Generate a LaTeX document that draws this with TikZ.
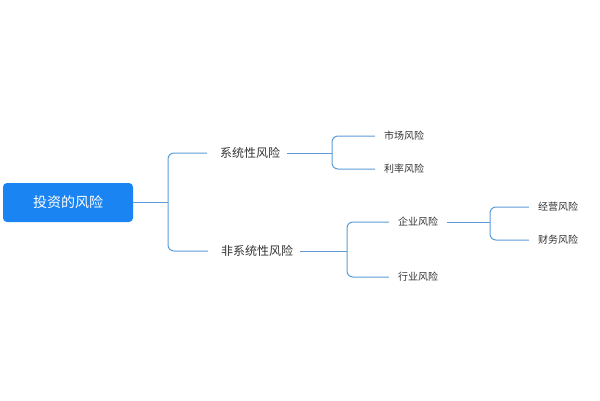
\documentclass[tikz,border=0pt]{standalone}
\usepackage{fontspec}
\setmainfont{Noto Sans CJK SC}
\definecolor{rootblue}{HTML}{1A84F2}
\definecolor{linkblue}{HTML}{5B9BD8}
\definecolor{txt}{HTML}{333333}
\begin{document}
\begin{tikzpicture}[x=1pt,y=-1pt,
  link/.style={draw=linkblue,line width=1pt,rounded corners=6pt},
  lvone/.style={text=txt,font=\fontsize{12}{14}\selectfont,inner sep=1pt},
  lvtwo/.style={text=txt,font=\fontsize{10}{12}\selectfont,inner sep=1pt}]
\useasboundingbox (0,0) rectangle (600,400);
\node[fill=rootblue,rounded corners=4pt,minimum width=130pt,minimum height=39pt,text=white,font=\fontsize{14}{16}\selectfont] (root) at (68,202.5) {投资的风险};
\node[lvone] (s) at (250,153) {系统性风险};
\node[lvone] (u) at (257,251) {非系统性风险};
\node[lvtwo] (m) at (404,136) {市场风险};
\node[lvtwo] (r) at (404,169) {利率风险};
\node[lvtwo] (q) at (418,222) {企业风险};
\node[lvtwo] (h) at (418,277) {行业风险};
\node[lvtwo] (j) at (558,207) {经营风险};
\node[lvtwo] (c) at (558,240) {财务风险};
\coordinate (b1) at (168,202.5);
\coordinate (b2) at (332,153);
\coordinate (b3) at (347,251);
\coordinate (b4) at (490,222);
\draw[link] (root.east) -- (b1);
\draw[link] (b1) |- ([xshift=-12pt]s.west);
\draw[link] (b1) |- ([xshift=-12pt]u.west);
\draw[link] ([xshift=6pt]s.east) -- (b2);
\draw[link] (b2) |- ([xshift=-8pt]m.west);
\draw[link] (b2) |- ([xshift=-8pt]r.west);
\draw[link] ([xshift=6pt]u.east) -- (b3);
\draw[link] (b3) |- ([xshift=-8pt]q.west);
\draw[link] (b3) |- ([xshift=-8pt]h.west);
\draw[link] ([xshift=8pt]q.east) -- (b4);
\draw[link] (b4) |- ([xshift=-8pt]j.west);
\draw[link] (b4) |- ([xshift=-8pt]c.west);
\end{tikzpicture}
\end{document}
